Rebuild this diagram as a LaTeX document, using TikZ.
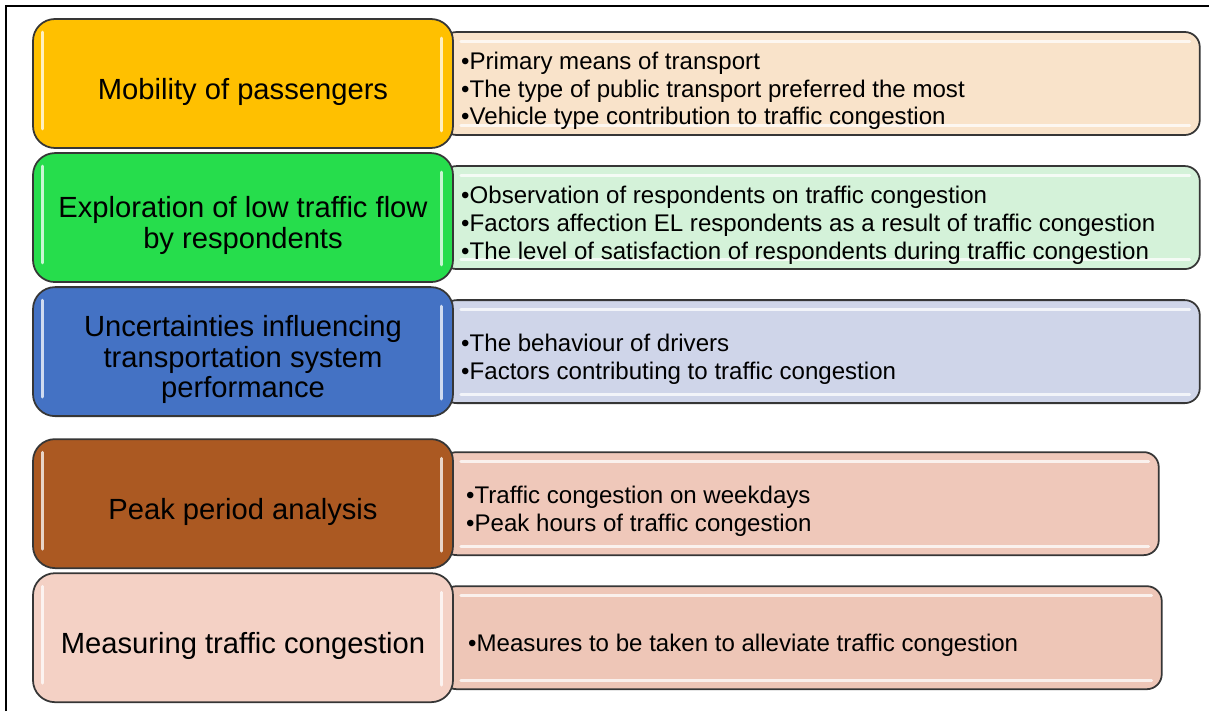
\documentclass[tikz,border=0pt]{standalone}
\usepackage{fontspec}
\setmainfont{Liberation Sans}
\usetikzlibrary{positioning,backgrounds}

\definecolor{edge}{HTML}{363636}
\definecolor{gold}{HTML}{FFC000}
\definecolor{peach}{HTML}{F9E3CA}
\definecolor{leaf}{HTML}{26DD4C}
\definecolor{mint}{HTML}{D4F2D9}
\definecolor{steel}{HTML}{4472C4}
\definecolor{mist}{HTML}{CFD5E9}
\definecolor{rust}{HTML}{AB5922}
\definecolor{salmon}{HTML}{EFC8BA}
\definecolor{blush}{HTML}{F4D1C5}
\definecolor{rose}{HTML}{EEC6B7}

\begin{document}
\begin{tikzpicture}[node distance=0.066cm,
    topic/.style={rectangle, rounded corners=0.44cm, draw=edge, line width=1pt,
        minimum width=8.4cm, minimum height=2.58cm},
    detail/.style={rectangle, rounded corners=0.3cm, draw=edge, line width=1pt,
        minimum width=15.16cm, minimum height=2.06cm},
    topictext/.style={align=center, inner sep=0pt, font=\fontsize{16.6}{17.4}\selectfont},
    detailtext/.style={align=left, anchor=west, inner sep=0pt, font=\fontsize{13.7}{15.8}\selectfont},
    gloss/.style={white, line width=0.06cm, line cap=round, opacity=0.75}]
    \useasboundingbox (0,0) rectangle (24.18,-14.22);
    \draw[line width=1.3pt] (0.12,-14.22) -- (0.12,-0.12) -- (24.18,-0.12);

    % topics on the left
    \node[topic, fill=gold] (m1) at (4.86,-1.67) {};
    \node[topic, fill=leaf, below=of m1] (m2) {};
    \node[topic, fill=steel, below=of m2] (m3) {};
    \node[topic, fill=rust, below=0.425cm of m3] (m4) {};
    \node[topic, fill=blush, below=of m4] (m5) {};
    \foreach \n in {m1,m2,m3,m4,m5} {
        \draw[gloss] ([xshift=0.2cm, yshift=-0.28cm]\n.north west) -- ([xshift=0.2cm, yshift=0.4cm]\n.south west);
        \draw[gloss] ([xshift=-0.24cm, yshift=-0.4cm]\n.north east) -- ([xshift=-0.24cm, yshift=0.36cm]\n.south east);
    }
    \node[topictext] (m1t) at ([yshift=-0.16cm]m1) {Mobility of passengers};
    \node[topictext] (m2t) at ([yshift=-0.16cm]m2) {Exploration of low traffic flow\\by respondents};
    \node[topictext] (m3t) at ([yshift=-0.16cm]m3) {Uncertainties influencing\\transportation system\\performance};
    \node[topictext] (m4t) at ([yshift=-0.16cm]m4) {Peak period analysis};
    \node[topictext] (m5t) at ([yshift=-0.16cm]m5) {Measuring traffic congestion};

    % details, tucked behind the topics
    \begin{pgfonlayer}{background}
        \node[detail, fill=peach, right=-0.26cm of m1] (d1) {};
        \node[detail, fill=mint, right=-0.26cm of m2] (d2) {};
        \node[detail, fill=mist, right=-0.26cm of m3] (d3) {};
        \node[detail, fill=salmon, minimum width=14.34cm, right=-0.26cm of m4] (d4) {};
        \node[detail, fill=rose, minimum width=14.4cm, right=-0.26cm of m5] (d5) {};
        \foreach \n in {d1,d2,d3,d4,d5} {
            \draw[gloss] ([xshift=0.4cm, yshift=-0.2cm]\n.north west) -- ([xshift=-0.22cm, yshift=-0.2cm]\n.north east);
            \draw[gloss] ([xshift=0.4cm, yshift=0.2cm]\n.south west) -- ([xshift=-0.22cm, yshift=0.2cm]\n.south east);
        }
    \end{pgfonlayer}
    \node[detailtext] (d1t) at ([xshift=0.4cm, yshift=-0.15cm]d1.west)
        {•Primary means of transport\\•The type of public transport preferred the most\\•Vehicle type contribution to traffic congestion};
    \node[detailtext] (d2t) at ([xshift=0.4cm, yshift=-0.15cm]d2.west)
        {•Observation of respondents on traffic congestion\\•Factors affection EL respondents as a result of traffic congestion\\•The level of satisfaction of respondents during traffic congestion};
    \node[detailtext] (d3t) at ([xshift=0.4cm, yshift=-0.15cm]d3.west)
        {•The behaviour of drivers\\•Factors contributing to traffic congestion};
    \node[detailtext] (d4t) at ([xshift=0.5cm, yshift=-0.15cm]d4.west)
        {•Traffic congestion on weekdays\\•Peak hours of traffic congestion};
    \node[detailtext] (d5t) at ([xshift=0.54cm, yshift=-0.15cm]d5.west)
        {•Measures to be taken to alleviate traffic congestion};
\end{tikzpicture}
\end{document}
